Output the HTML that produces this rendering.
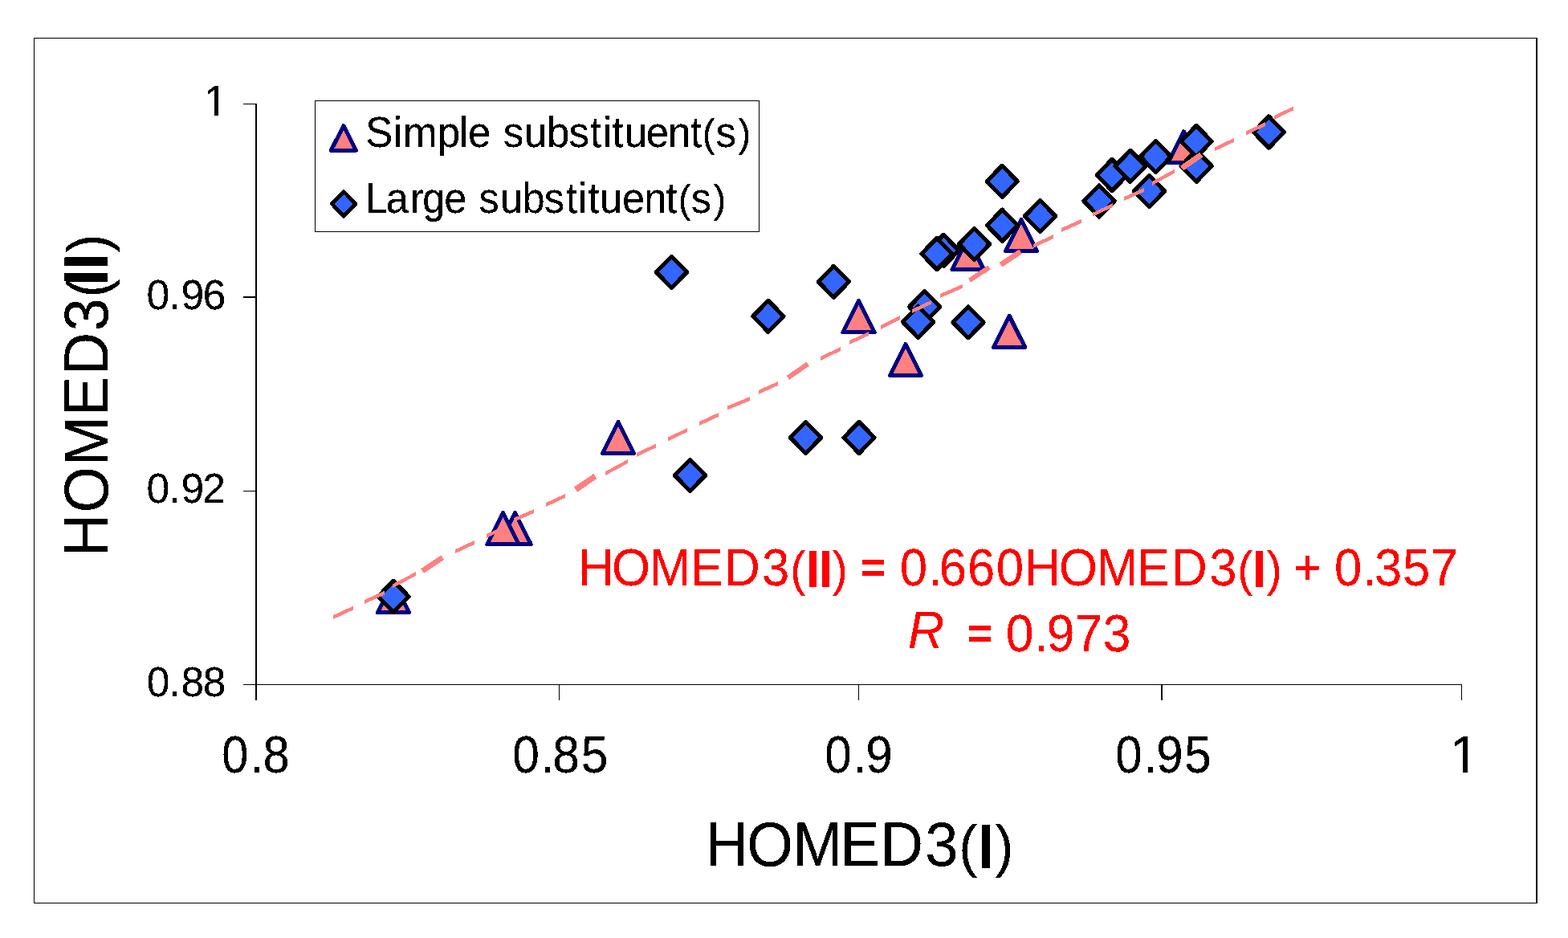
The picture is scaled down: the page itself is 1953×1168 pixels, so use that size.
<!DOCTYPE html>
<html lang="en"><head><meta charset="utf-8"><title>HOMED3(II) vs HOMED3(I)</title>
<style>
html,body{margin:0;padding:0;background:#fff;}
body{width:1953px;height:1168px;overflow:hidden;}
svg{display:block;}
text{font-family:"Liberation Sans",sans-serif;font-kerning:none;white-space:pre;}
.b{font-weight:bold;}
.i{font-style:italic;}
</style></head><body>
<svg width="1953" height="1168" viewBox="0 0 1953 1168" role="img" aria-label="Scatter plot of HOMED3(II) against HOMED3(I)">
<rect x="0" y="0" width="1953" height="1168" fill="#fff"/>
<defs><filter id="alias" x="-5%" y="-5%" width="110%" height="110%" color-interpolation-filters="sRGB"><feComponentTransfer><feFuncA type="discrete" tableValues="0 0 1 1 1"/></feComponentTransfer></filter></defs>
<g shape-rendering="crispEdges" fill="#000">
<rect x="42" y="47" width="1873" height="1"/>
<rect x="42" y="1124" width="1873" height="1"/>
<rect x="42" y="47" width="1" height="1078"/>
<rect x="1913" y="47" width="2" height="1078"/>
<rect x="318" y="129" width="2" height="743"/>
<rect x="318" y="852" width="1503" height="1"/>
<rect x="303" y="129" width="16" height="1"/>
<rect x="303" y="369" width="16" height="2"/>
<rect x="303" y="611" width="16" height="1"/>
<rect x="303" y="852" width="16" height="1"/>
<rect x="696" y="852" width="1" height="20"/>
<rect x="1069" y="852" width="1" height="20"/>
<rect x="1446" y="852" width="2" height="20"/>
<rect x="1820" y="852" width="1" height="20"/>
<rect x="392.5" y="125.5" width="553" height="162.5" fill="#fff" stroke="#000" stroke-width="1"/>
</g>
<g shape-rendering="crispEdges">
<path d="M490.00 723.65L509.65 762.75L470.35 762.75Z" fill="#ff8080" stroke="#000080" stroke-width="5" stroke-linejoin="round"/>
<path d="M641.60 638.45L661.25 677.55L621.95 677.55Z" fill="#ff8080" stroke="#000080" stroke-width="5" stroke-linejoin="round"/>
<path d="M626.50 638.45L646.15 677.55L606.85 677.55Z" fill="#ff8080" stroke="#000080" stroke-width="5" stroke-linejoin="round"/>
<path d="M770.00 525.45L789.65 564.55L750.35 564.55Z" fill="#ff8080" stroke="#000080" stroke-width="5" stroke-linejoin="round"/>
<path d="M1069.50 374.41L1089.15 413.51L1049.85 413.51Z" fill="#ff8080" stroke="#000080" stroke-width="5" stroke-linejoin="round"/>
<path d="M1128.00 428.50L1147.65 467.60L1108.35 467.60Z" fill="#ff8080" stroke="#000080" stroke-width="5" stroke-linejoin="round"/>
<path d="M1205.60 296.32L1225.25 335.42L1185.95 335.42Z" fill="#ff8080" stroke="#000080" stroke-width="5" stroke-linejoin="round"/>
<path d="M1257.10 393.25L1276.75 432.35L1237.45 432.35Z" fill="#ff8080" stroke="#000080" stroke-width="5" stroke-linejoin="round"/>
<path d="M1272.00 273.45L1291.65 312.55L1252.35 312.55Z" fill="#ff8080" stroke="#000080" stroke-width="5" stroke-linejoin="round"/>
<path d="M1474.50 163.85L1494.15 202.95L1454.85 202.95Z" fill="#ff8080" stroke="#000080" stroke-width="5" stroke-linejoin="round"/>
<path d="M490.05 723.30L509.10 742.85L490.05 762.40L471.00 742.85Z" fill="#3366ff" stroke="#000" stroke-width="5.2" stroke-linejoin="round"/>
<path d="M836.50 319.35L855.55 338.90L836.50 358.45L817.45 338.90Z" fill="#3366ff" stroke="#000" stroke-width="5.2" stroke-linejoin="round"/>
<path d="M859.50 572.35L878.55 591.90L859.50 611.45L840.45 591.90Z" fill="#3366ff" stroke="#000" stroke-width="5.2" stroke-linejoin="round"/>
<path d="M956.90 374.25L975.95 393.80L956.90 413.35L937.85 393.80Z" fill="#3366ff" stroke="#000" stroke-width="5.2" stroke-linejoin="round"/>
<path d="M1003.50 525.35L1022.55 544.90L1003.50 564.45L984.45 544.90Z" fill="#3366ff" stroke="#000" stroke-width="5.2" stroke-linejoin="round"/>
<path d="M1038.40 331.25L1057.45 350.80L1038.40 370.35L1019.35 350.80Z" fill="#3366ff" stroke="#000" stroke-width="5.2" stroke-linejoin="round"/>
<path d="M1070.00 525.35L1089.05 544.90L1070.00 564.45L1050.95 544.90Z" fill="#3366ff" stroke="#000" stroke-width="5.2" stroke-linejoin="round"/>
<path d="M1151.60 362.45L1170.65 382.00L1151.60 401.55L1132.55 382.00Z" fill="#3366ff" stroke="#000" stroke-width="5.2" stroke-linejoin="round"/>
<path d="M1143.55 381.25L1162.60 400.80L1143.55 420.35L1124.50 400.80Z" fill="#3366ff" stroke="#000" stroke-width="5.2" stroke-linejoin="round"/>
<path d="M1175.20 292.35L1194.25 311.90L1175.20 331.45L1156.15 311.90Z" fill="#3366ff" stroke="#000" stroke-width="5.2" stroke-linejoin="round"/>
<path d="M1166.90 296.45L1185.95 316.00L1166.90 335.55L1147.85 316.00Z" fill="#3366ff" stroke="#000" stroke-width="5.2" stroke-linejoin="round"/>
<path d="M1206.00 381.75L1225.05 401.30L1206.00 420.85L1186.95 401.30Z" fill="#3366ff" stroke="#000" stroke-width="5.2" stroke-linejoin="round"/>
<path d="M1213.55 284.45L1232.60 304.00L1213.55 323.55L1194.50 304.00Z" fill="#3366ff" stroke="#000" stroke-width="5.2" stroke-linejoin="round"/>
<path d="M1248.20 206.25L1267.25 225.80L1248.20 245.35L1229.15 225.80Z" fill="#3366ff" stroke="#000" stroke-width="5.2" stroke-linejoin="round"/>
<path d="M1248.40 261.05L1267.45 280.60L1248.40 300.15L1229.35 280.60Z" fill="#3366ff" stroke="#000" stroke-width="5.2" stroke-linejoin="round"/>
<path d="M1295.50 249.55L1314.55 269.10L1295.50 288.65L1276.45 269.10Z" fill="#3366ff" stroke="#000" stroke-width="5.2" stroke-linejoin="round"/>
<path d="M1369.05 230.85L1388.10 250.40L1369.05 269.95L1350.00 250.40Z" fill="#3366ff" stroke="#000" stroke-width="5.2" stroke-linejoin="round"/>
<path d="M1385.10 198.45L1404.15 218.00L1385.10 237.55L1366.05 218.00Z" fill="#3366ff" stroke="#000" stroke-width="5.2" stroke-linejoin="round"/>
<path d="M1407.90 187.30L1426.95 206.85L1407.90 226.40L1388.85 206.85Z" fill="#3366ff" stroke="#000" stroke-width="5.2" stroke-linejoin="round"/>
<path d="M1431.50 218.45L1450.55 238.00L1431.50 257.55L1412.45 238.00Z" fill="#3366ff" stroke="#000" stroke-width="5.2" stroke-linejoin="round"/>
<path d="M1439.50 175.45L1458.55 195.00L1439.50 214.55L1420.45 195.00Z" fill="#3366ff" stroke="#000" stroke-width="5.2" stroke-linejoin="round"/>
<path d="M1490.10 187.25L1509.15 206.80L1490.10 226.35L1471.05 206.80Z" fill="#3366ff" stroke="#000" stroke-width="5.2" stroke-linejoin="round"/>
<path d="M1490.10 156.45L1509.15 176.00L1490.10 195.55L1471.05 176.00Z" fill="#3366ff" stroke="#000" stroke-width="5.2" stroke-linejoin="round"/>
<path d="M1580.40 145.00L1599.45 164.55L1580.40 184.10L1561.35 164.55Z" fill="#3366ff" stroke="#000" stroke-width="5.2" stroke-linejoin="round"/>
</g>
<g fill="#ff8080" shape-rendering="crispEdges">
<path d="M415.00 766.21L440.05 754.45L440.05 759.35L415.00 771.11Z"/>
<path d="M454.07 746.99L479.10 735.51L479.10 740.41L454.07 751.89Z"/>
<path d="M488.97 727.35L518.00 712.09L518.00 716.99L488.97 732.25Z"/>
<path d="M526.02 711.02L551.21 694.21" fill="none" stroke="#ff8080" stroke-width="6.9"/>
<path d="M566.94 684.21L591.06 672.95L591.06 677.85L566.94 689.11Z"/>
<path d="M606.00 665.05L630.60 653.45L630.60 658.35L606.00 669.95Z"/>
<path d="M640.30 644.85L665.00 634.01L665.00 638.91L640.30 649.75Z"/>
<path d="M679.96 626.12L703.84 615.05L703.84 619.95L679.96 631.02Z"/>
<path d="M716.92 609.57L741.43 592.98" fill="none" stroke="#ff8080" stroke-width="7.4"/>
<path d="M754.07 587.05L782.04 572.05L782.04 576.95L754.07 591.95Z"/>
<path d="M793.06 563.95L817.10 552.40L817.10 557.30L793.06 568.85Z"/>
<path d="M831.96 544.61L855.90 532.99L855.90 537.89L831.96 549.51Z"/>
<path d="M871.02 525.09L895.06 513.92L895.06 518.82L871.02 529.99Z"/>
<path d="M906.00 505.64L933.97 494.05L933.97 498.95L906.00 510.54Z"/>
<path d="M944.98 485.88L969.02 475.02L969.02 479.92L944.98 490.78Z"/>
<path d="M981.60 470.26L1006.13 453.17" fill="none" stroke="#ff8080" stroke-width="6.0"/>
<path d="M1021.95 444.01L1046.99 432.00L1046.99 436.90L1021.95 448.91Z"/>
<path d="M1058.00 423.98L1082.04 413.00L1082.04 417.90L1058.00 428.88Z"/>
<path d="M1096.90 405.11L1120.95 392.97L1120.95 397.87L1096.90 410.01Z"/>
<path d="M1135.97 385.08L1160.10 373.85L1160.10 378.75L1135.97 389.98Z"/>
<path d="M1171.02 365.94L1198.90 354.00L1198.90 358.90L1171.02 370.84Z"/>
<path d="M1207.57 349.12L1231.99 333.04" fill="none" stroke="#ff8080" stroke-width="5.9"/>
<path d="M1246.47 329.72L1271.23 313.28" fill="none" stroke="#ff8080" stroke-width="6.5"/>
<path d="M1287.10 303.85L1312.10 292.10L1312.10 297.00L1287.10 308.75Z"/>
<path d="M1321.95 284.01L1346.99 272.92L1346.99 277.82L1321.95 288.91Z"/>
<path d="M1361.09 264.68L1386.05 253.24L1386.05 258.14L1361.09 269.58Z"/>
<path d="M1399.99 245.11L1425.03 233.94L1425.03 238.84L1399.99 250.01Z"/>
<path d="M1434.97 225.92L1462.97 210.65L1462.97 215.55L1434.97 230.82Z"/>
<path d="M1472.07 209.43L1496.23 192.57" fill="none" stroke="#ff8080" stroke-width="7.0"/>
<path d="M1513.09 183.19L1537.00 171.93L1537.00 176.83L1513.09 188.09Z"/>
<path d="M1551.96 163.43L1576.04 152.13L1576.04 157.03L1551.96 168.33Z"/>
<path d="M1586.88 144.12L1610.96 132.41L1610.96 137.31L1586.88 149.02Z"/>
</g>
<g shape-rendering="crispEdges">
<path d="M427.90 156.65L443.45 187.15L412.35 187.15Z" fill="#ff8080" stroke="#000080" stroke-width="5" stroke-linejoin="round"/>
<path d="M428.10 238.50L442.80 253.90L428.10 269.30L413.40 253.90Z" fill="#3366ff" stroke="#000" stroke-width="4.8" stroke-linejoin="round"/>
</g>
<g filter="url(#alias)">
<clipPath id="c1"><rect x="0" y="-53.30" width="53.30" height="49.32"/><rect x="13.40" y="-53.30" width="4.71" height="53.30"/></clipPath><text transform="translate(253.65 144.00) scale(1.0187 1)" font-size="53.3" clip-path="url(#c1)">1</text>
<text transform="translate(182.53 385.00) scale(0.9989 1)" font-size="51.9"><tspan x="0.00 27.80 43.06 69.98" y="0.00">0.96</tspan></text>
<text transform="translate(182.61 626.00) scale(0.9969 1)" font-size="51.9"><tspan x="0.00 27.86 43.05 69.82" y="0.00">0.92</tspan></text>
<text transform="translate(182.66 867.00) scale(0.9937 1)" font-size="51.9"><tspan x="0.00 27.93 43.17 70.47" y="0.00">0.88</tspan></text>
<text transform="translate(276.33 962.00) scale(0.9268 1)" font-size="64.4"><tspan x="0.00 38.17 55.10" y="0.00">0.8</tspan></text>
<text transform="translate(638.16 962.00) scale(0.9402 1)" font-size="64.4"><tspan x="0.00 37.73 53.29 91.04" y="0.00">0.85</tspan></text>
<text transform="translate(1027.21 962.00) scale(0.9360 1)" font-size="64.4"><tspan x="0.00 37.84 54.64" y="0.00">0.9</tspan></text>
<text transform="translate(1389.28 962.00) scale(0.9327 1)" font-size="64.4"><tspan x="0.00 37.97 54.77 92.29" y="0.00">0.95</tspan></text>
<clipPath id="c2"><rect x="0" y="-65.00" width="65.00" height="60.14"/><rect x="16.35" y="-65.00" width="5.74" height="65.00"/></clipPath><text transform="translate(1805.48 962.00) scale(1.0273 1)" font-size="65.0" clip-path="url(#c2)">1</text>
<text transform="translate(878.73 1078.20) scale(0.9578 1)" font-size="77.3"><tspan x="0.00 53.76 113.67 175.06 227.42 285.48" y="0.00">HOMED3</tspan><tspan font-size="72.66"1.0 x="329.51" y="0.00">(</tspan><tspan class="b" x="353.95" y="2.80">I</tspan><tspan font-size="72.66"1.0 x="376.45" y="0.00">)</tspan></text>
<text transform="translate(134.20 693.15) rotate(-90) scale(0.9523 1)" font-size="77.3"><tspan x="0.00 57.45 118.91 183.75 237.26 294.77" y="0.00">HOMED3</tspan><tspan font-size="72.66"1.0 x="338.85" y="0.00">(</tspan><tspan class="b" x="354.79 374.83" y="0.00">II</tspan><tspan font-size="72.66"1.0 x="397.55" y="0.00">)</tspan></text>
<text transform="translate(455.18 183.00) scale(0.9665 1)" font-size="52.8"><tspan x="0.00 35.79 48.57 92.79 120.84 132.21 161.58 177.42 204.78 233.68 262.11 289.54 306.10 317.59 333.80 361.78 390.00 418.80" y="0.00">Simple substituent</tspan><tspan font-size="49.63"1.0 x="434.14" y="0.00">(</tspan><tspan x="451.44" y="0.00">s</tspan><tspan font-size="49.63"1.0 x="480.18" y="0.00">)</tspan></text>
<text transform="translate(454.72 265.00) scale(0.9561 1)" font-size="52.8"><tspan x="0.00 27.34 58.80 74.77 102.94 132.30 148.30 176.07 204.81 233.30 261.88 277.58 290.23 305.74 334.99 363.51 391.70" y="0.00">Large substituent</tspan><tspan font-size="49.63"1.0 x="407.95" y="0.00">(</tspan><tspan x="424.62" y="0.00">s</tspan><tspan font-size="49.63"1.0 x="453.73" y="0.00">)</tspan></text>
<text transform="translate(720.21 729.17) scale(0.9403 1)" font-size="65.5" fill="#ff0000"><tspan x="0.00 44.49 94.34 148.43 193.57 243.43" y="0.00">HOMED3</tspan><tspan font-size="61.57"1.0 x="280.84" y="0.00">(</tspan><tspan class="b" x="301.67 318.80" y="1.90">II</tspan><tspan font-size="61.57"1.0 x="336.36" y="0.00">)</tspan><tspan font-size="55.67" stroke="#ff0000" stroke-width="1.7" x="356.86 374.36" y="-4.30"> =</tspan><tspan x="406.88 426.05 463.93 478.18 515.46 553.56 591.24 636.88 686.74 739.80 786.01 835.88" y="0.00"> 0.660HOMED3</tspan><tspan font-size="61.57"1.0 x="873.25" y="0.00">(</tspan><tspan class="b" x="893.13" y="1.90">I</tspan><tspan font-size="61.57"1.0 x="911.64" y="0.00">)</tspan><tspan font-size="60.92" stroke="#ff0000" stroke-width="0.4" x="932.15 948.25" y="-2.40"> +</tspan><tspan x="983.82 1001.51 1039.32 1054.82 1091.89 1128.99" y="0.00"> 0.357</tspan></text>
<text transform="translate(1131.02 811.10) scale(0.9504 1)" font-size="65.5" fill="#ff0000"><tspan class="i" x="0.00" y="-4.10">R</tspan><tspan font-size="55.67" stroke="#ff0000" stroke-width="1.7" x="47.30 77.96" y="-4.30"> =</tspan><tspan x="110.47 128.18 165.49 181.85 218.45 255.47" y="0.00"> 0.973</tspan></text>
</g>
</svg>
</body></html>
